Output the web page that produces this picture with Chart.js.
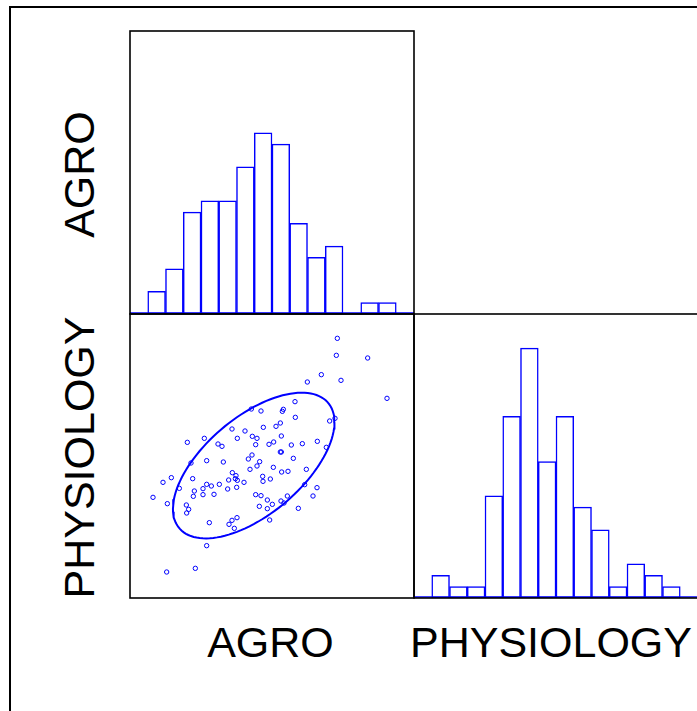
<!DOCTYPE html>
<html>
<head>
<meta charset="utf-8">
<script src="https://cdn.jsdelivr.net/npm/chart.js@4.4.1/dist/chart.umd.min.js"></script>
<style>
    html, body { margin: 0; padding: 0; background: #fff; }
    body { position: relative; width: 697px; height: 711px; overflow: hidden; font-family: "Liberation Sans", Arial, sans-serif; }
    #marco { position: absolute; left: 9px; top: 6px; width: 720px; height: 720px; border-left: 2.5px solid #000; border-top: 2.5px solid #000; }
    canvas { position: absolute; }
    .etiqueta { position: absolute; width: 320px; height: 43px; font-size: 43px; line-height: 43px; text-align: center; white-space: nowrap; color: #000; }
    .vertical { transform: rotate(-90deg); }
</style>
</head>
<body>
<div id="marco"></div>
<canvas id="hist-agro" width="288" height="287" style="left:128px; top:29px"></canvas>
<canvas id="dispersion" width="288" height="288" style="left:128px; top:312px"></canvas>
<canvas id="hist-physio" width="288" height="288" style="left:412px; top:312px"></canvas>
<div class="etiqueta vertical" style="left:-81.5px; top:153px">AGRO</div>
<div class="etiqueta vertical" style="left:-81.5px; top:435.5px">PHYSIOLOGY</div>
<div class="etiqueta" style="left:110.5px; top:621px">AGRO</div>
<div class="etiqueta" style="left:391px; top:621px">PHYSIOLOGY</div>
<script>
'use strict';

const AZUL = '#0000ff';

// Clases del histograma (16 intervalos iguales sobre el rango de cada variable)
const clases = ['0', '1', '2', '3', '4', '5', '6', '7', '8', '9', '10', '11', '12', '13', '14', '15'];
const conteosAgro = [0, 2, 4, 9, 10, 10, 13, 16, 15, 8, 5, 6, 0, 1, 1, 0];
const conteosPhysio = [0, 2, 1, 1, 9, 16, 22, 12, 16, 8, 6, 1, 3, 2, 1, 0];

// Puntuaciones individuales (escala 0-852)
const agro = [
    622, 619, 713, 574, 532, 633, 771, 495, 364, 393,
    460, 457, 496, 615, 599, 451, 438, 400, 306, 345,
    454, 367, 381, 223, 322, 172, 431, 417, 377, 264,
    276, 484, 517, 562, 589, 451, 454, 366, 355, 490,
    230, 280, 389, 183, 381, 430, 360, 529, 455, 474,
    307, 318, 398, 124, 188, 316, 322, 296, 421, 399,
    99, 342, 230, 244, 268, 524, 561, 148, 219, 293,
    320, 193, 219, 190, 252, 377, 393, 472, 549, 69,
    412, 453, 462, 427, 112, 169, 388, 412, 505, 176,
    170, 419, 321, 306, 238, 297, 313, 230, 196, 110
];
const physiology = [
    779, 728, 720, 670, 648, 653, 599, 589, 567, 561,
    566, 560, 542, 539, 531, 525, 515, 512, 507, 501,
    486, 485, 479, 479, 479, 467, 468, 461, 460, 462,
    455, 459, 463, 470, 452, 438, 438, 429, 417, 419,
    412, 408, 409, 405, 396, 392, 386, 386, 378, 380,
    376, 367, 365, 361, 358, 358, 353, 354, 357, 350,
    347, 347, 341, 336, 341, 340, 331, 329, 328, 327,
    332, 321, 310, 305, 311, 310, 307, 306, 306, 302,
    294, 291, 285, 281, 283, 279, 275, 268, 269, 266,
    255, 234, 241, 233, 226, 221, 209, 157, 89, 78
];

const RANGO = { min: 0, max: 852 };
const FRECUENCIA_MAX = 25;
const K_ELIPSE = 1.68;

/**
 * Dibuja el marco negro del panel y, si se pide, la línea base azul.
 */
const marcoPanel = {
    id: 'marcoPanel',
    afterDatasetsDraw(chart, args, opts) {
        const { ctx, chartArea: a } = chart;
        ctx.save();
        if (opts.lineaBase) {
            ctx.strokeStyle = AZUL;
            ctx.lineWidth = 1.6;
            ctx.beginPath();
            ctx.moveTo(a.left, a.bottom - 1);
            ctx.lineTo(a.right, a.bottom - 1);
            ctx.stroke();
        }
        ctx.strokeStyle = '#000';
        ctx.lineWidth = 1.6;
        ctx.strokeRect(a.left, a.top, a.width, a.height);
        ctx.restore();
    }
};

/**
 * Crea un histograma de contorno azul.
 * @param {string} id - Id del canvas.
 * @param {Array} conteos - Frecuencias por clase.
 */
function crearHistograma(id, conteos) {
    return new Chart(document.getElementById(id), {
        type: 'bar',
        data: {
            labels: clases,
            datasets: [{
                data: conteos,
                backgroundColor: '#fff',
                borderColor: AZUL,
                borderWidth: 1.5,
                borderSkipped: false,
                barPercentage: 1,
                categoryPercentage: 1
            }]
        },
        options: {
            responsive: false,
            animation: false,
            layout: { padding: 2, autoPadding: false },
            plugins: { legend: { display: false }, tooltip: { enabled: false }, marcoPanel: { lineaBase: true } },
            scales: {
                x: { display: false },
                y: { display: false, min: 0, max: FRECUENCIA_MAX }
            }
        },
        plugins: [marcoPanel]
    });
}

/**
 * Elipse de datos a partir de la media y la covarianza de los puntos.
 */
function calcularElipse(xs, ys, k) {
    const n = xs.length;
    const mx = xs.reduce((s, v) => s + v, 0) / n;
    const my = ys.reduce((s, v) => s + v, 0) / n;
    let sxx = 0, syy = 0, sxy = 0;
    for (let i = 0; i < n; i++) {
        sxx += (xs[i] - mx) ** 2;
        syy += (ys[i] - my) ** 2;
        sxy += (xs[i] - mx) * (ys[i] - my);
    }
    sxx /= n - 1; syy /= n - 1; sxy /= n - 1;
    const a = Math.sqrt(sxx);
    const b = sxy / a;
    const c = Math.sqrt(syy - b * b);
    const puntos = [];
    for (let i = 0; i <= 120; i++) {
        const t = (i / 120) * 2 * Math.PI;
        const u = Math.cos(t), v = Math.sin(t);
        puntos.push({ x: mx + k * a * u, y: my + k * (b * u + c * v) });
    }
    return puntos;
}

crearHistograma('hist-agro', conteosAgro);
crearHistograma('hist-physio', conteosPhysio);

new Chart(document.getElementById('dispersion'), {
    type: 'scatter',
    data: {
        datasets: [
            {
                data: agro.map((x, i) => ({ x: x, y: physiology[i] })),
                pointStyle: 'circle',
                pointRadius: 2.2,
                pointBorderWidth: 1,
                pointBorderColor: AZUL,
                pointBackgroundColor: 'rgba(0,0,0,0)'
            },
            {
                data: calcularElipse(agro, physiology, K_ELIPSE),
                showLine: true,
                borderColor: AZUL,
                borderWidth: 2,
                pointRadius: 0,
                fill: false
            }
        ]
    },
    options: {
        responsive: false,
        animation: false,
        layout: { padding: 2, autoPadding: false },
        plugins: { legend: { display: false }, tooltip: { enabled: false }, marcoPanel: { lineaBase: false } },
        scales: {
            x: { type: 'linear', display: false, min: RANGO.min, max: RANGO.max },
            y: { type: 'linear', display: false, min: RANGO.min, max: RANGO.max }
        }
    },
    plugins: [marcoPanel]
});
</script>
</body>
</html>
